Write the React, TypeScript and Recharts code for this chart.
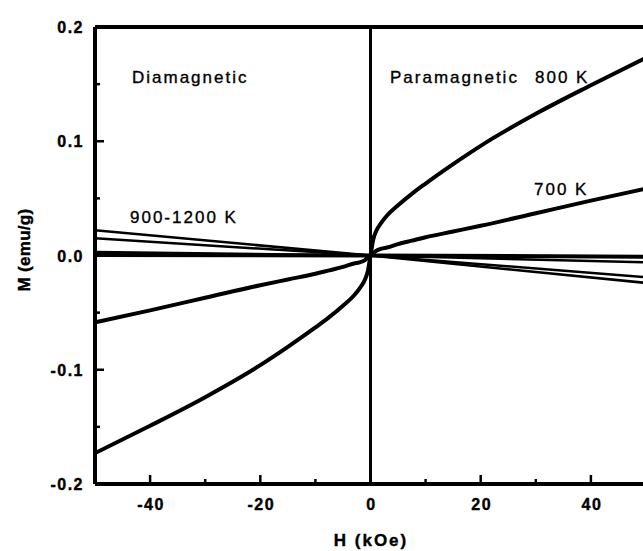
import React from "react";
import { LineChart, Line, XAxis, YAxis, ReferenceLine } from "recharts";

// field values (kOe) used for the curved series
const hDense = [-50, -40, -30, -20, -15, -10, -7.5, -5, -3, -2, -1, -0.5, 0, 0.5, 1, 2, 3, 5, 7.5, 10, 15, 20, 30, 40, 50];
// 800 K - paramagnetic, S shaped
const m800 = [-0.173, -0.149, -0.124, -0.096, -0.080, -0.063, -0.054, -0.044, -0.035, -0.029, -0.021, -0.014, 0, 0.014, 0.021, 0.029, 0.035, 0.044, 0.054, 0.063, 0.080, 0.096, 0.124, 0.149, 0.173];
// 700 K - paramagnetic, nearly linear
const m700 = [-0.0585, -0.048, -0.037, -0.026, -0.021, -0.016, -0.013, -0.010, -0.007, -0.006, -0.004, -0.002, 0, 0.002, 0.004, 0.006, 0.007, 0.010, 0.013, 0.016, 0.021, 0.026, 0.037, 0.048, 0.0585];

// 900-1200 K - diamagnetic straight lines
const hLine = [-50, 0, 50];
const m900 = [0.022, 0, -0.024];
const m1000 = [0.015, 0, -0.019];
const m1100 = [0.003, 0, -0.006];
const m1200 = [0.0005, 0, -0.001];

const xTicks = [-50, -40, -30, -20, -10, 0, 10, 20, 30, 40, 50];
const yTicks = [-0.2, -0.15, -0.1, -0.05, 0, 0.05, 0.1, 0.15, 0.2];

const toRows = (h: number[], m: number[]) => h.map((v, i) => ({ h: v, m: m[i] }));

const FONT = '"Liberation Sans", Arial, sans-serif';

const xMajor = (v: number) => v % 20 === 0;
const yMajor = (v: number) => Math.round(v * 100) % 10 === 0;

const BottomTick = ({ x, y, payload }: any) => {
  const v = payload.value;
  const major = xMajor(v);
  return (
    <g>
      <line x1={x} x2={x} y1={y} y2={y - (major ? 9 : 5)} stroke="#000" strokeWidth={2.5} />
      {major && (
        <text x={x + 1} y={y + 26} textAnchor="middle" fontFamily={FONT} fontWeight="bold" fontSize={16} letterSpacing={1.5} fill="#000" stroke="#000" strokeWidth={0.4}>
          {v}
        </text>
      )}
    </g>
  );
};

const TopTick = ({ x, y, payload }: any) => (
  <line x1={x} x2={x} y1={y} y2={y + (xMajor(payload.value) ? 9 : 5)} stroke="#000" strokeWidth={2.5} />
);

const LeftTick = ({ x, y, payload }: any) => {
  const v = payload.value;
  const major = yMajor(v);
  return (
    <g>
      <line x1={x} x2={x + (major ? 9 : 5)} y1={y} y2={y} stroke="#000" strokeWidth={2.5} />
      {major && (
        <text x={x - 11} y={y + 6} textAnchor="end" fontFamily={FONT} fontWeight="bold" fontSize={16} letterSpacing={1.5} fill="#000" stroke="#000" strokeWidth={0.4}>
          {v.toFixed(1)}
        </text>
      )}
    </g>
  );
};

const RightTick = ({ x, y, payload }: any) => (
  <line x1={x} x2={x - (yMajor(payload.value) ? 9 : 5)} y1={y} y2={y} stroke="#000" strokeWidth={2.5} />
);

export default function App() {
  return (
    <div style={{ position: "absolute", left: 0, top: 0, width: 643, height: 551, overflow: "hidden", background: "#fff" }}>
      <LineChart width={660} height={551} margin={{ top: 27, right: 14, bottom: 27, left: 35 }}>
        <XAxis dataKey="h" type="number" domain={[-50, 50]} ticks={xTicks} interval={0} allowDataOverflow
          axisLine={false} tickLine={false} tickSize={0} tickMargin={0} height={40} tick={BottomTick} />
        <XAxis xAxisId="top" orientation="top" dataKey="h" type="number" domain={[-50, 50]} ticks={xTicks} interval={0} allowDataOverflow
          axisLine={false} tickLine={false} tickSize={0} tickMargin={0} height={0} tick={TopTick} />
        <YAxis type="number" domain={[-0.2, 0.2]} ticks={yTicks} interval={0} allowDataOverflow
          axisLine={false} tickLine={false} tickSize={0} tickMargin={0} width={60} tick={LeftTick} />
        <YAxis yAxisId="right" orientation="right" type="number" domain={[-0.2, 0.2]} ticks={yTicks} interval={0} allowDataOverflow
          axisLine={false} tickLine={false} tickSize={0} tickMargin={0} width={0} tick={RightTick} />
        <ReferenceLine x={-50} stroke="#000" strokeWidth={4} ifOverflow="visible" />
        <ReferenceLine y={0.2} stroke="#000" strokeWidth={4} ifOverflow="visible" />
        <ReferenceLine y={-0.2} stroke="#000" strokeWidth={4} ifOverflow="visible" />
        <ReferenceLine x={0} stroke="#000" strokeWidth={3} />
        <Line data={toRows(hLine, m900)} dataKey="m" stroke="#000" strokeWidth={2.5} dot={false} isAnimationActive={false} />
        <Line data={toRows(hLine, m1000)} dataKey="m" stroke="#000" strokeWidth={2.5} dot={false} isAnimationActive={false} />
        <Line data={toRows(hLine, m1100)} dataKey="m" stroke="#000" strokeWidth={2.5} dot={false} isAnimationActive={false} />
        <Line data={toRows(hLine, m1200)} dataKey="m" stroke="#000" strokeWidth={4} dot={false} isAnimationActive={false} />
        <Line data={toRows(hDense, m700)} dataKey="m" type="monotone" stroke="#000" strokeWidth={4} dot={false} isAnimationActive={false} />
        <Line data={toRows(hDense, m800)} dataKey="m" type="monotone" stroke="#000" strokeWidth={4} dot={false} isAnimationActive={false} />
      </LineChart>
      <svg width={643} height={551} style={{ position: "absolute", left: 0, top: 0, pointerEvents: "none" }}>
        <g fontFamily={FONT} fontSize={17} letterSpacing={2} fill="#000" stroke="#000" strokeWidth={0.35}>
          <text x={132} y={83}>Diamagnetic</text>
          <text x={390} y={83}>Paramagnetic</text>
          <text x={535} y={83}>800 K</text>
          <text x={534} y={195}>700 K</text>
          <text x={130} y={223}>900-1200 K</text>
        </g>
        <text x={371} y={546} textAnchor="middle" fontFamily={FONT} fontWeight="bold" fontSize={17} letterSpacing={2} fill="#000" stroke="#000" strokeWidth={0.4}>H (kOe)</text>
        <text x={0} y={0} transform="translate(30,250) rotate(-90)" textAnchor="middle" fontFamily={FONT} fontWeight="bold" fontSize={17} letterSpacing={0.3} fill="#000" stroke="#000" strokeWidth={0.4}>M (emu/g)</text>
      </svg>
    </div>
  );
}
